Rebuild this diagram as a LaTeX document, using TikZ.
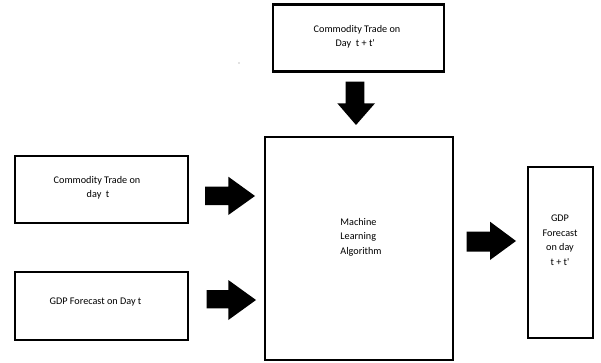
\documentclass[tikz,border=0pt]{standalone}
\usepackage{fontspec}
\setmainfont{Carlito}
\usepackage{tikz}

\begin{document}
\begin{tikzpicture}[x=1pt,y=-1pt,
    box/.style={draw=black,line width=2.8pt,inner sep=0pt},
    txt/.style={inner sep=0pt,font=\fontsize{10.2}{14.5}\selectfont},
    fatarrow/.style={fill=black}]
  \useasboundingbox (0,0) rectangle (601,363);

  % boxes
  \node[box,minimum width=171pt,minimum height=67pt] (future) at (358.5,38) {};
  \node[box,minimum width=173pt,minimum height=67pt] (trade) at (101.5,189.5) {};
  \node[box,minimum width=173pt,minimum height=68pt] (gdp) at (101.5,306) {};
  \node[box,minimum width=188pt,minimum height=223pt] (ml) at (359,248.5) {};
  \node[box,minimum width=65pt,minimum height=171pt] (out) at (560.5,252.5) {};

  % texts
  \node[txt,align=left] (futuretxt) at (357,37) {Commodity Trade on\\\hspace{22pt}Day\ \ t + t\textquotesingle};
  \node[txt,align=left] (tradetxt) at (97,188) {Commodity Trade on\\\hspace{33pt}day\ \ t};
  \node[txt] (gdptxt) at (95.5,302) {GDP Forecast on Day t};
  \node[txt,align=left] (mltxt) at (361,237) {Machine\\Learning\\Algorithm};
  \node[txt,align=center] (outtxt) at (560,240) {GDP\\Forecast\\on day\\t + t\textquotesingle};

  % block arrows
  \fill[fatarrow] (345.7,81.7) -- (364.3,81.7) -- (364.3,103.3) -- (375,103.3)
     -- (356,125) -- (337.3,103.3) -- (345.7,103.3) -- cycle;
  \fill[fatarrow] (205,186.7) -- (228.3,186.7) -- (228.3,176.7) -- (255,196)
     -- (228.3,215) -- (228.3,205) -- (205,205) -- cycle;
  \fill[fatarrow] (206.7,290) -- (228.3,290) -- (228.3,280) -- (256,300)
     -- (228.3,320) -- (228.3,308.3) -- (206.7,308.3) -- cycle;
  \fill[fatarrow] (466.7,231.7) -- (490,231.7) -- (490,221.7) -- (516,241)
     -- (490,260) -- (490,251.7) -- (466.7,251.7) -- cycle;

  \fill[gray] (239,63) circle (0.6pt);
\end{tikzpicture}
\end{document}
